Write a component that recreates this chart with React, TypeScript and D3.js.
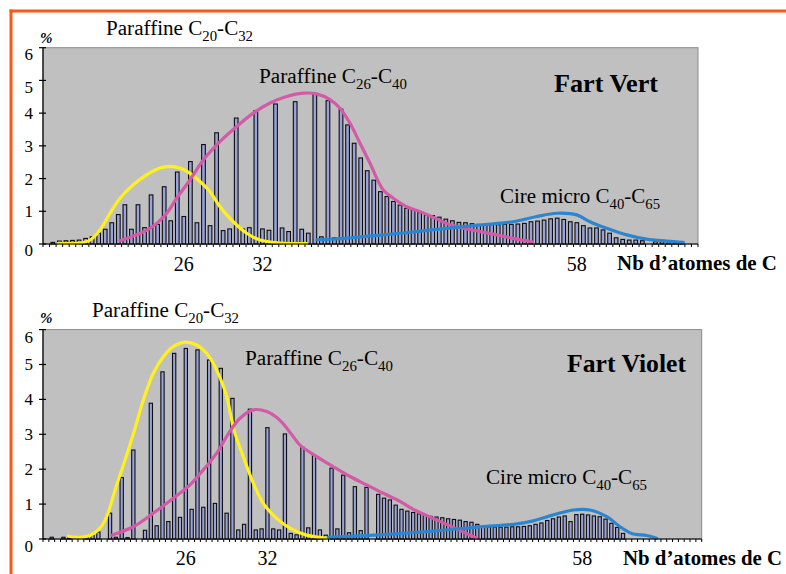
import React from "react";
import * as d3 from "d3";

// ---------- DATA ----------
// Bar heights (%) per category position, top panel ("Fart Vert")
const topBars = [
  0, 0.05, 0.09, 0.1, 0.11, 0.12, 0.17, 0.22, 0.33, 0.45,
  0.65, 0.9, 1.2, 0.45, 1.2, 0.5, 1.5, 0.6, 1.75, 0.71,
  2.2, 0.84, 2.52, 0.65, 3.04, 0.56, 3.4, 0.41, 0.46, 3.85,
  0.46, 0.5, 4.08, 0.46, 0.42, 4.28, 0.49, 0.38, 4.35, 0.45,
  0.33, 4.57, 0.22, 4.38, 0.19, 4.12, 3.64, 3.08, 2.63, 2.24,
  1.95, 1.6, 1.45, 1.3, 1.19, 1.09, 1.04, 0.96, 0.89, 0.87,
  0.82, 0.76, 0.71, 0.66, 0.65, 0.62, 0.6, 0.59, 0.59, 0.59,
  0.6, 0.6, 0.61, 0.63, 0.68, 0.7, 0.73, 0.77, 0.79, 0.75,
  0.68, 0.65, 0.56, 0.49, 0.49, 0.43, 0.33, 0.19, 0.14, 0.12,
  0.12, 0.1, 0, 0.07, 0.07, 0.07, 0.06, 0.05, 0, 0,
];

// Bar heights (%) per category position, bottom panel ("Fart Violet")
const bottomBars = [
  0, 0.05, 0, 0.05, 0.03, 0, 0, 0.04, 0.12, 0.2,
  0, 0.74, 0.05, 1.76, 0.04, 2.55, 0, 0.25, 3.89, 0.38,
  4.79, 0.5, 5.32, 0.62, 5.46, 0.85, 5.42, 0.91, 5.13, 1.02,
  4.89, 0.74, 4.03, 0.26, 0.42, 3.72, 0.26, 0.29, 3.19, 0.29,
  0.26, 3.01, 0.16, 0.12, 2.63, 0.32, 2.39, 0.26, 0.11, 2.03,
  0.29, 1.83, 0.18, 1.5, 0.24, 1.48, 0, 1.28, 1.17, 1.12,
  0.97, 0.85, 0.8, 0.76, 0.72, 0.68, 0.65, 0.63, 0.61, 0.58,
  0.56, 0.54, 0.5, 0.48, 0.42, 0.36, 0.34, 0.34, 0.34, 0.34,
  0.35, 0.35, 0.36, 0.38, 0.42, 0.46, 0.53, 0.58, 0.63, 0.66,
  0.5, 0.7, 0.71, 0.69, 0.66, 0.64, 0.57, 0.45, 0.33, 0.16,
  0, 0, 0, 0, 0, 0, 0, 0, 0, 0, 0, 0, 0,
];

// Fitted curves: [category position, %]
const topYellow: [number, number][] = [
  [2.34, 0.02], [5.15, 0.02], [7.18, 0.12], [8.7, 0.43], [10.23, 0.94], [11.76, 1.4],
  [13.79, 1.81], [15.83, 2.11], [17.86, 2.32], [19.39, 2.37], [20.92, 2.32], [22.44, 2.16],
  [23.97, 1.91], [25.5, 1.6], [27.02, 1.14], [29.05, 0.68], [31.1, 0.33], [33.13, 0.12],
  [36.18, 0.03], [40.26, 0.01],
];
const topMagenta: [number, number][] = [
  [11.76, 0.1], [16.34, 0.48], [18.89, 0.94], [20.41, 1.4], [22.44, 1.96], [24.47, 2.57],
  [27.02, 3.13], [29.57, 3.59], [32.1, 4.0], [34.66, 4.31], [37.2, 4.51], [39.74, 4.61],
  [41.79, 4.59], [43.82, 4.41], [45.34, 4.15], [46.87, 3.69], [48.4, 3.08], [49.92, 2.47],
  [51.95, 1.65], [53.48, 1.4], [55.53, 1.14], [57.56, 0.99], [59.85, 0.79], [61.63, 0.63],
  [64.17, 0.48], [66.72, 0.38], [69.27, 0.28], [71.8, 0.17], [74.66, 0.07],
];
const topBlue: [number, number][] = [
  [41.79, 0.13], [46.87, 0.19], [51.95, 0.28], [57.05, 0.38], [61.63, 0.48], [66.72, 0.58],
  [71.8, 0.68], [75.37, 0.84], [78.43, 0.94], [81.48, 0.89], [83.51, 0.68], [86.06, 0.48],
  [89.11, 0.28], [92.17, 0.15], [95.22, 0.09], [97.76, 0.05],
];

const bottomYellow: [number, number][] = [
  [4.34, 0.08], [6.35, 0.05], [8.06, 0.1], [9.78, 0.31], [10.93, 0.64], [12.35, 1.4],
  [14.07, 2.26], [15.49, 3.0], [17.21, 3.98], [18.92, 4.75], [20.64, 5.22], [22.35, 5.51],
  [24.36, 5.64], [26.37, 5.56], [28.08, 5.32], [29.8, 4.84], [31.51, 4.08], [32.77, 3.12],
  [34.36, 2.36], [36.08, 1.6], [37.79, 1.02], [40.09, 0.59], [42.37, 0.31], [45.24, 0.11],
  [48.95, 0.02],
];
const bottomMagenta: [number, number][] = [
  [11.79, 0.11], [15.49, 0.35], [18.92, 0.74], [22.35, 1.17], [25.22, 1.55], [27.5, 1.98],
  [29.8, 2.46], [31.74, 3.0], [33.8, 3.46], [36.08, 3.7], [38.38, 3.65], [40.66, 3.4],
  [42.94, 2.93], [44.09, 2.69], [46.95, 2.36], [49.8, 2.07], [52.67, 1.79], [55.53, 1.55],
  [58.38, 1.31], [61.25, 1.08], [63.53, 0.85], [69.26, 0.42], [74.4, 0.02],
];
const bottomBlue: [number, number][] = [
  [48.95, 0.05], [57.82, 0.12], [63.53, 0.18], [69.26, 0.26], [74.97, 0.35], [80.68, 0.42],
  [84.11, 0.52], [87.55, 0.69], [90.98, 0.83], [93.84, 0.83], [96.71, 0.64], [98.99, 0.35],
  [100.99, 0.16], [103.57, 0.1], [105.28, 0.02],
];

const yTicks = [0, 1, 2, 3, 4, 5, 6];
const xLabelTexts = ["26", "32", "58"];
const topLabelIdx = [21, 33, 81];
const bottomLabelIdx = [24, 38, 92];

// ---------- STYLE ----------
const FONT = "'Liberation Serif', 'Times New Roman', Times, serif";
const BAR_FILL = "#9aa2dc";
const PLOT_BG = "#c0c0c0";
const YELLOW = "#fff01e";
const MAGENTA = "#d45aa8";
const BLUE = "#2b86cf";
const ORANGE = "#ff5716";

type Part = [string, boolean];

function SubText({ x, y, parts, size, subSize, width, bold }: any) {
  let prevSub = false;
  return (
    <text
      x={x}
      y={y}
      fontFamily={FONT}
      fontSize={size}
      fontWeight={bold ? "bold" : "normal"}
      textLength={width}
      lengthAdjust="spacingAndGlyphs"
      fill="#000"
    >
      {(parts as Part[]).map(([s, sub], i) => {
        let dy = 0;
        if (sub && !prevSub) dy = 6;
        if (!sub && prevSub) dy = -6;
        prevSub = sub;
        return (
          <tspan key={i} dy={dy} fontSize={sub ? subSize : size}>
            {s}
          </tspan>
        );
      })}
    </text>
  );
}

function Panel({ cfg }: any) {
  const { bars, left, right, top, bottom, yellow, magenta, blue, labelIdx, txt, yOff } = cfg;
  const n = bars.length;
  const x = d3.scaleBand<number>().domain(d3.range(n)).range([left, right]).padding(0);
  const xc = d3.scaleLinear().domain([0, n]).range([left, right]);
  const y = d3.scaleLinear().domain([0, 6]).range([bottom, top]);
  const band = x.bandwidth();
  const bw = band * 0.56;
  const line = d3
    .line<[number, number]>()
    .x((d) => xc(d[0]))
    .y((d) => y(d[1]))
    .curve(d3.curveCatmullRom.alpha(0.5));

  return (
    <g>
      <rect x={left} y={top} width={right - left} height={bottom - top} fill={PLOT_BG} stroke="#8a8a8a" strokeWidth={1} />
      {bars.map((v: number, i: number) =>
        v > 0 ? (
          <rect
            key={i}
            x={(x(i) as number) + (band - bw) / 2}
            y={y(v)}
            width={bw}
            height={bottom - y(v)}
            fill={BAR_FILL}
            stroke="#0d0d0d"
            strokeWidth={1.1}
          />
        ) : null
      )}
      <path d={line(yellow) || ""} fill="none" stroke={YELLOW} strokeWidth={3.2} strokeLinecap="round" />
      <path d={line(magenta) || ""} fill="none" stroke={MAGENTA} strokeWidth={3.2} strokeLinecap="round" />
      <path d={line(blue) || ""} fill="none" stroke={BLUE} strokeWidth={3.2} strokeLinecap="round" />
      {/* axes */}
      <line x1={left} x2={left} y1={top} y2={bottom} stroke="#000" strokeWidth={1.2} />
      <line x1={left} x2={right} y1={bottom} y2={bottom} stroke="#000" strokeWidth={1.2} />
      {yTicks.map((t) => (
        <g key={t}>
          <line x1={left - 4} x2={left + 3} y1={y(t)} y2={y(t)} stroke="#000" strokeWidth={1.2} />
          <text
            x={33}
            y={y(t) + yOff(t)}
            dy="0.35em"
            textAnchor="end"
            fontFamily={FONT}
            fontSize={17}
          >
            {t}
          </text>
        </g>
      ))}
      {d3.range(n + 1).map((i) => (
        <line key={i} x1={xc(i)} x2={xc(i)} y1={bottom} y2={bottom + 3} stroke="#000" strokeWidth={1} />
      ))}
      {labelIdx.map((idx: number, k: number) => (
        <text
          key={k}
          x={(x(idx) as number) + band / 2}
          y={txt.xLabY}
          textAnchor="middle"
          fontFamily={FONT}
          fontSize={20}
        >
          {xLabelTexts[k]}
        </text>
      ))}
      <text x={txt.pct[0]} y={txt.pct[1]} fontFamily={FONT} fontSize={15} fontWeight="bold" fontStyle="italic">
        %
      </text>
      <SubText x={txt.t1[0]} y={txt.t1[1]} width={txt.t1[2]} size={20} subSize={14}
        parts={[["Paraffine C", false], ["20", true], ["-C", false], ["32", true]]} />
      <SubText x={txt.t2[0]} y={txt.t2[1]} width={txt.t2[2]} size={20} subSize={14}
        parts={[["Paraffine C", false], ["26", true], ["-C", false], ["40", true]]} />
      <SubText x={txt.cire[0]} y={txt.cire[1]} width={txt.cire[2]} size={20} subSize={14}
        parts={[["Cire micro C", false], ["40", true], ["-C", false], ["65", true]]} />
      <text x={txt.name[0]} y={txt.name[1]} fontFamily={FONT} fontSize={25} fontWeight="bold"
        textLength={txt.name[2]} lengthAdjust="spacingAndGlyphs">
        {txt.name[3]}
      </text>
      <text x={txt.nb[0]} y={txt.nb[1]} fontFamily={FONT} fontSize={21} fontWeight="bold"
        textLength={txt.nb[2]} lengthAdjust="spacingAndGlyphs">
        Nb d’atomes de C
      </text>
    </g>
  );
}

export default function App() {
  const topCfg = {
    bars: topBars,
    left: 43,
    right: 698,
    top: 47.7,
    bottom: 244,
    yellow: topYellow,
    magenta: topMagenta,
    blue: topBlue,
    labelIdx: topLabelIdx,
    yOff: (t: number) => (t === 0 || t === 5 || t === 6 ? 6.5 : 0),
    txt: {
      xLabY: 271,
      pct: [40, 43],
      t1: [106, 35, 147],
      t2: [259, 83, 148],
      cire: [500, 203, 160],
      name: [554, 92, 104, "Fart Vert"],
      nb: [617, 270, 160],
    },
  };
  const bottomCfg = {
    bars: bottomBars,
    left: 43,
    right: 701.7,
    top: 329.6,
    bottom: 539,
    yellow: bottomYellow,
    magenta: bottomMagenta,
    blue: bottomBlue,
    labelIdx: bottomLabelIdx,
    yOff: (t: number) => (t === 0 || t === 6 ? 7 : 0),
    txt: {
      xLabY: 565,
      pct: [40, 323],
      t1: [92, 317, 147],
      t2: [245, 365, 148],
      cire: [486, 484, 161],
      name: [567, 372, 119, "Fart Violet"],
      nb: [623, 565, 159],
    },
  };
  return (
    <svg
      width={786}
      height={574}
      style={{ position: "absolute", left: 0, top: 0, background: "#fff" }}
    >
      <rect x={0} y={0} width={786} height={574} fill="#fff" />
      <line x1={9.5} x2={786} y1={11} y2={11} stroke={ORANGE} strokeWidth={3} />
      <line x1={11} x2={11} y1={9.5} y2={574} stroke={ORANGE} strokeWidth={3} />
      <Panel cfg={topCfg} />
      <Panel cfg={bottomCfg} />
    </svg>
  );
}
